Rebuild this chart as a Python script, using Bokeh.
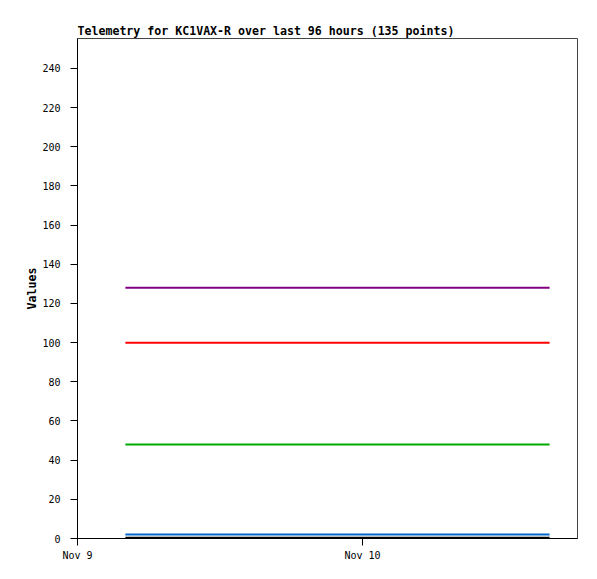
from datetime import datetime
from bokeh.plotting import figure
from bokeh.models import Range1d, DatetimeTickFormatter, FixedTicker, SingleIntervalTicker
from bokeh.embed import file_html
from bokeh.resources import INLINE

# Data (values are flat over the window)
start = datetime(2024, 11, 9, 4, 2)
end = datetime(2024, 11, 10, 15, 45)
times = [start, end]
series_names = ["A1", "A2", "A3", "A4", "A5"]
series_values = [
    [128, 128],   # purple
    [100, 100],   # red
    [48, 48],     # green
    [2, 2],       # blue
    [0.4, 0.4],   # black
]
series_colors = ["#800080", "#ff0000", "#00aa00", "#0066cc", "#000000"]
x_ticks = [datetime(2024, 11, 9), datetime(2024, 11, 10)]

x_min = datetime(2024, 11, 9)
x_max = datetime(2024, 11, 10, 18, 6)

FONT = "DejaVu Sans Mono"

p = figure(width=589, height=571, output_backend="svg", toolbar_location=None,
           x_axis_type="datetime",
           x_range=Range1d(x_min, x_max), y_range=Range1d(0, 255.3),
           min_border_left=77, min_border_right=12, min_border_top=38, min_border_bottom=33,
           title="Telemetry for KC1VAX-R over last 96 hours (135 points)")

for vals, col in zip(series_values, series_colors):
    p.line(times, vals, line_color=col, line_width=2)

p.title.text_font = FONT
p.title.text_font_size = "11.6px"
p.title.text_font_style = "bold"
p.title.text_color = "black"
p.title.align = "left"
p.title.offset = 0
p.title.standoff = 1

p.grid.visible = False
p.outline_line_color = "#444444"
p.outline_line_width = 1

p.xaxis.ticker = FixedTicker(ticks=[t.timestamp() * 1000 for t in x_ticks])
p.xaxis.formatter = DatetimeTickFormatter(days="%b %-d", hours="%b %-d", months="%b %-d")
p.yaxis.ticker = SingleIntervalTicker(interval=20)
p.yaxis.axis_label = "Values"
p.yaxis.axis_label_text_font = FONT
p.yaxis.axis_label_text_font_size = "11.6px"
p.yaxis.axis_label_text_font_style = "bold"
p.yaxis.axis_label_text_color = "black"
p.yaxis.axis_label_standoff = 0

for ax in (p.xaxis, p.yaxis):
    ax.axis_line_color = "black"
    ax.major_tick_line_color = "black"
    ax.minor_tick_line_color = None
    ax.major_tick_in = 0
    ax.major_tick_out = 7
    ax.major_label_text_font = FONT
    ax.major_label_text_font_size = "10px"
    ax.major_label_text_color = "black"
p.yaxis.major_label_standoff = 10
p.xaxis.major_label_standoff = 4

open("out.html", "w").write(file_html(p, INLINE))
